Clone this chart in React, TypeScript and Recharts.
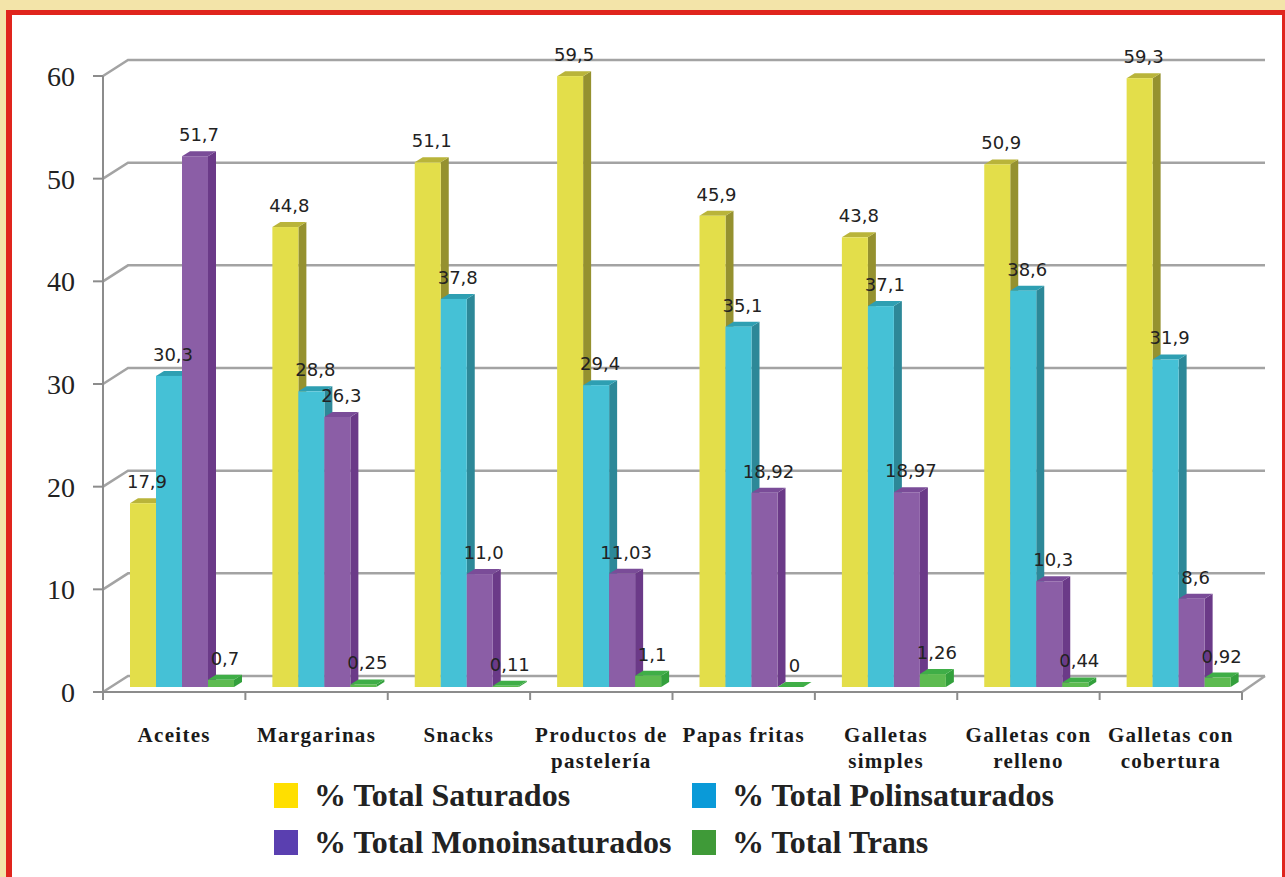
import { Bar, BarChart, CartesianGrid, LabelList, Legend, XAxis, YAxis } from 'recharts';

const categories = [
  'Aceites',
  'Margarinas',
  'Snacks',
  'Productos de\npastelería',
  'Papas fritas',
  'Galletas\nsimples',
  'Galletas con\nrelleno',
  'Galletas con\ncobertura',
];
const saturados = ['17,9', '44,8', '51,1', '59,5', '45,9', '43,8', '50,9', '59,3'];
const polinsaturados = ['30,3', '28,8', '37,8', '29,4', '35,1', '37,1', '38,6', '31,9'];
const monoinsaturados = ['51,7', '26,3', '11,0', '11,03', '18,92', '18,97', '10,3', '8,6'];
const trans = ['0,7', '0,25', '0,11', '1,1', '0', '1,26', '0,44', '0,92'];
const yTicks = [0, 10, 20, 30, 40, 50, 60];

const series = [
  { key: 'sat', name: '% Total Saturados', labels: saturados, front: '#e3de4a', top: '#b9b43a', side: '#95912f', legend: '#ffdf00' },
  { key: 'poli', name: '% Total Polinsaturados', labels: polinsaturados, front: '#45c1d6', top: '#2e9fb2', side: '#2d8898', legend: '#0a9ad8' },
  { key: 'mono', name: '% Total Monoinsaturados', labels: monoinsaturados, front: '#8b5ea6', top: '#7a4c98', side: '#6b3a88', legend: '#5a3fb0' },
  { key: 'trans', name: '% Total Trans', labels: trans, front: '#5dbb50', top: '#3fae47', side: '#33a03c', legend: '#3f9a38' },
];

const toNum = (s: string) => parseFloat(s.replace(',', '.'));

const chartData = categories.map((name, i) => {
  const row: Record<string, string | number> = { name };
  series.forEach((s) => {
    row[s.key] = toNum(s.labels[i]);
    row[s.key + 'L'] = s.labels[i];
  });
  return row;
});

const AXIS = '#8c8c8c';
const GRID = '#a3a3a3';
const HALF_BAND = (1242 - 103) / categories.length / 2;

function bar3D(front: string, top: string, side: string) {
  return (props: any) => {
    const { x, y, width, height } = props;
    const fx = x + 8;
    const fy = y - 5;
    const d = 8;
    const e = 5;
    return (
      <g>
        <polygon
          points={`${fx + width},${fy} ${fx + width + d},${fy - e} ${fx + width + d},${fy + height - e} ${fx + width},${fy + height}`}
          fill={side}
        />
        <polygon points={`${fx},${fy} ${fx + d},${fy - e} ${fx + width + d},${fy - e} ${fx + width},${fy}`} fill={top} />
        <rect x={fx} y={fy} width={width} height={height} fill={front} />
      </g>
    );
  };
}

const renderValue = (props: any) => {
  const { x, y, width, value } = props;
  return (
    <text x={x + width / 2 + 12} y={y - 20} textAnchor="middle" fontFamily="DejaVu Sans" fontSize={18} fill="#222">
      {value}
    </text>
  );
};

const gridLine = (props: any) => {
  const { x1, x2, y1 } = props;
  const left = Math.min(x1, x2);
  const right = Math.max(x1, x2);
  const by = y1 - 16;
  return (
    <g key={`g-${y1}`} stroke={GRID} strokeWidth={2.5} fill="none">
      <polyline points={`${left},${y1} ${left + 25},${by} ${right + 23},${by}`} />
      {y1 > 690 && <line x1={right} y1={y1} x2={right + 23} y2={by} />}
    </g>
  );
};

const XTick = (props: any) => {
  const { x, y, payload, index } = props;
  const lines = String(payload.value).split('\n');
  return (
    <g>
      <line x1={x - HALF_BAND} y1={y - 8} x2={x - HALF_BAND} y2={y} stroke={AXIS} strokeWidth={2} />
      {index === categories.length - 1 && (
        <line x1={x + HALF_BAND} y1={y - 8} x2={x + HALF_BAND} y2={y} stroke={AXIS} strokeWidth={2} />
      )}
      <text
        x={x}
        y={y + 42}
        textAnchor="middle"
        fontFamily="Liberation Serif"
        fontWeight="bold"
        fontSize={21}
        letterSpacing={1.3}
        fill="#1a1a1a"
      >
        {lines.map((l, i) => (
          <tspan key={i} x={x} dy={i === 0 ? 0 : 26}>
            {l}
          </tspan>
        ))}
      </text>
    </g>
  );
};

const renderLegend = () => (
  <div style={{ display: 'grid', gridTemplateColumns: '418px 420px' }}>
    {series.map((s) => (
      <div key={s.key} style={{ display: 'flex', alignItems: 'center', height: 47 }}>
        <span style={{ display: 'inline-block', width: 24, height: 25, background: s.legend, marginRight: 16 }} />
        <span style={{ fontFamily: 'Liberation Serif', fontWeight: 'bold', fontSize: 32, color: '#222' }}>{s.name}</span>
      </div>
    ))}
  </div>
);

export default function App() {
  return (
    <div style={{ position: 'fixed', left: 0, top: 0, width: 1285, height: 877, background: '#f3e4a9', overflow: 'hidden' }}>
      <div
        style={{
          position: 'absolute',
          left: 6,
          top: 10,
          width: 1270,
          height: 900,
          background: '#fff',
          borderLeft: '6px solid #e0251d',
          borderTop: '5px solid #e0251d',
          borderRight: '3px solid #e0251d',
        }}
      />
      <div style={{ position: 'absolute', left: 0, top: 0 }}>
        <BarChart
          width={1285}
          height={877}
          data={chartData}
          margin={{ top: 76, right: 43, left: 10, bottom: 125 }}
          barSize={26}
          barGap={0}
        >
          <CartesianGrid vertical={false} horizontal={gridLine} />
          <XAxis
            dataKey="name"
            interval={0}
            height={60}
            tickLine={false}
            axisLine={{ stroke: AXIS, strokeWidth: 2 }}
            tick={<XTick />}
          />
          <YAxis
            type="number"
            domain={[0, 60]}
            ticks={yTicks}
            interval={0}
            width={93}
            tickSize={10}
            tickMargin={18}
            axisLine={{ stroke: AXIS, strokeWidth: 2 }}
            tickLine={{ stroke: AXIS, strokeWidth: 2 }}
            tick={{ fontFamily: 'Liberation Serif', fontSize: 28, fill: '#222' }}
          />
          <Legend
            layout="horizontal"
            verticalAlign="middle"
            align="center"
            content={renderLegend}
            wrapperStyle={{ left: 274, top: 772, width: 840 }}
          />
          {series.map((s) => (
            <Bar
              key={s.key}
              dataKey={s.key}
              name={s.name}
              fill={s.front}
              shape={bar3D(s.front, s.top, s.side)}
              isAnimationActive={false}
            >
              <LabelList dataKey={s.key + 'L'} content={renderValue} />
            </Bar>
          ))}
        </BarChart>
      </div>
    </div>
  );
}
